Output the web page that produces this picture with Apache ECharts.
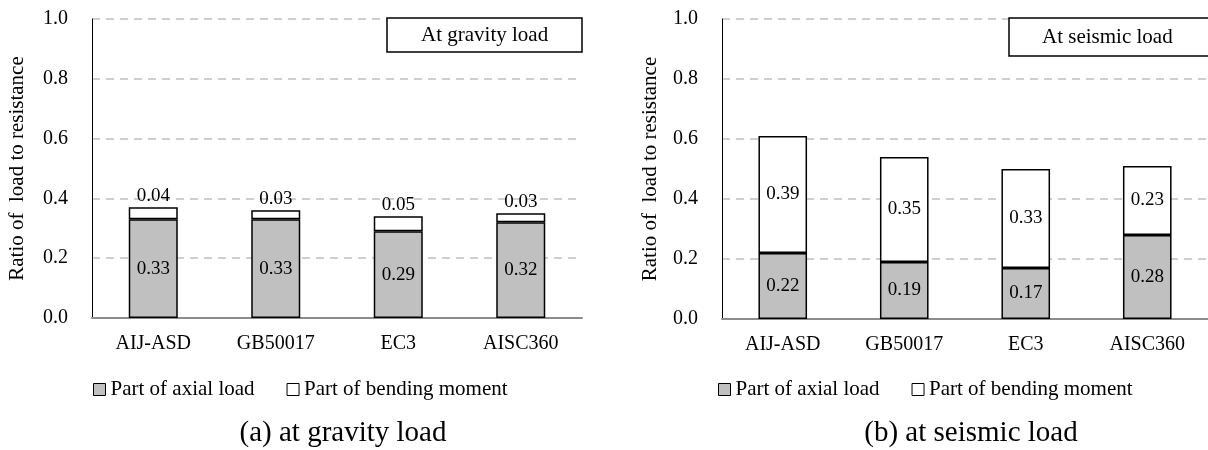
<!DOCTYPE html>
<html>
<head>
    <meta charset="utf-8">
    <title>Ratio of load to resistance</title>
    <script src="https://cdn.jsdelivr.net/npm/echarts@6/dist/echarts.min.js"></script>
    <style type="text/css">
        html, body {
            margin: 0;
            padding: 0;
            background: #ffffff;
        }
        #chart {
            width: 1208px;
            height: 450px;
        }
    </style>
</head>
<body>
<div id="chart"></div>
<script>
    // 数据
    var categories = ['AIJ-ASD', 'GB50017', 'EC3', 'AISC360'];
    var gravityAxial = [0.33, 0.33, 0.29, 0.32];
    var gravityBending = [0.04, 0.03, 0.05, 0.03];
    var seismicAxial = [0.22, 0.19, 0.17, 0.28];
    var seismicBending = [0.39, 0.35, 0.33, 0.23];
    var yTicks = [0, 0.2, 0.4, 0.6, 0.8, 1.0];

    var FONT = 'Liberation Serif, Times New Roman, serif';

    var chart = echarts.init(document.getElementById('chart'), null, {renderer: 'canvas'});

    function xAxisOf(idx) {
        return {
            type: 'category',
            gridIndex: idx,
            data: categories,
            axisTick: {show: false},
            axisLine: {lineStyle: {color: '#8c8c8c', width: 2}},
            axisLabel: {color: '#000', fontFamily: FONT, fontSize: 20, margin: 16}
        };
    }

    function yAxisOf(idx, gap) {
        return {
            type: 'value',
            gridIndex: idx,
            min: yTicks[0],
            max: yTicks[yTicks.length - 1],
            interval: 0.2,
            name: 'Ratio of  load to resistance',
            nameLocation: 'middle',
            nameGap: gap,
            nameTextStyle: {color: '#000', fontFamily: FONT, fontSize: 21},
            axisLine: {show: true, lineStyle: {color: '#000', width: 1}},
            axisTick: {show: false},
            axisLabel: {
                color: '#000', fontFamily: FONT, fontSize: 20, margin: 24,
                formatter: function (v) { return v.toFixed(1); }
            },
            splitLine: {lineStyle: {color: '#c0c0c0', width: 1.5, type: [8, 6]}}
        };
    }

    function barOf(name, data, idx, stack, fill, labelPos) {
        return {
            name: name,
            type: 'bar',
            xAxisIndex: idx,
            yAxisIndex: idx,
            stack: stack,
            data: data,
            barWidth: '40%',
            itemStyle: {color: fill, borderColor: '#000', borderWidth: 1.5},
            label: {
                show: true,
                position: labelPos,
                distance: 2,
                color: '#000',
                fontFamily: FONT,
                fontSize: 19,
                formatter: function (p) { return p.value.toFixed(2); }
            },
            emphasis: {disabled: true}
        };
    }

    var legendNames = ['Part of axial load', 'Part of bending moment'];

    function legendOf(left) {
        return {
            left: left,
            top: 374,
            data: legendNames,
            icon: 'rect',
            itemWidth: 12,
            itemHeight: 12,
            itemGap: 32,
            itemStyle: {borderColor: '#000', borderWidth: 1},
            textStyle: {color: '#000', fontFamily: FONT, fontSize: 21},
            selectedMode: false
        };
    }

    var option = {
        animation: false,
        backgroundColor: '#fff',
        title: [
            {
                text: 'At gravity load', left: 387, top: 18, padding: [5, 34],
                borderColor: '#000', borderWidth: 1.5, backgroundColor: '#fff',
                textStyle: {color: '#000', fontFamily: FONT, fontSize: 21, fontWeight: 'normal', lineHeight: 24}
            },
            {
                text: 'At seismic load', left: 1009, top: 18, padding: [7, 45, 7, 33],
                borderColor: '#000', borderWidth: 1.5, backgroundColor: '#fff',
                textStyle: {color: '#000', fontFamily: FONT, fontSize: 21, fontWeight: 'normal', lineHeight: 24}
            },
            {
                text: '(a) at gravity load', left: 338, top: 414, textAlign: 'center',
                textStyle: {color: '#000', fontFamily: FONT, fontSize: 29, fontWeight: 'normal'}
            },
            {
                text: '(b) at seismic load', left: 966, top: 414, textAlign: 'center',
                textStyle: {color: '#000', fontFamily: FONT, fontSize: 29, fontWeight: 'normal'}
            }
        ],
        legend: [legendOf(88), legendOf(713)],
        grid: [
            {left: 92, top: 19, width: 490, height: 299},
            {left: 722, top: 19, width: 486, height: 300}
        ],
        xAxis: [xAxisOf(0), xAxisOf(1)],
        yAxis: [yAxisOf(0, 64), yAxisOf(1, 61)],
        series: [
            barOf(legendNames[0], gravityAxial, 0, 'g', '#c0c0c0', 'inside'),
            barOf(legendNames[1], gravityBending, 0, 'g', '#ffffff', 'top'),
            barOf(legendNames[0], seismicAxial, 1, 's', '#c0c0c0', 'inside'),
            barOf(legendNames[1], seismicBending, 1, 's', '#ffffff', 'inside')
        ]
    };

    chart.setOption(option);
</script>
</body>
</html>
